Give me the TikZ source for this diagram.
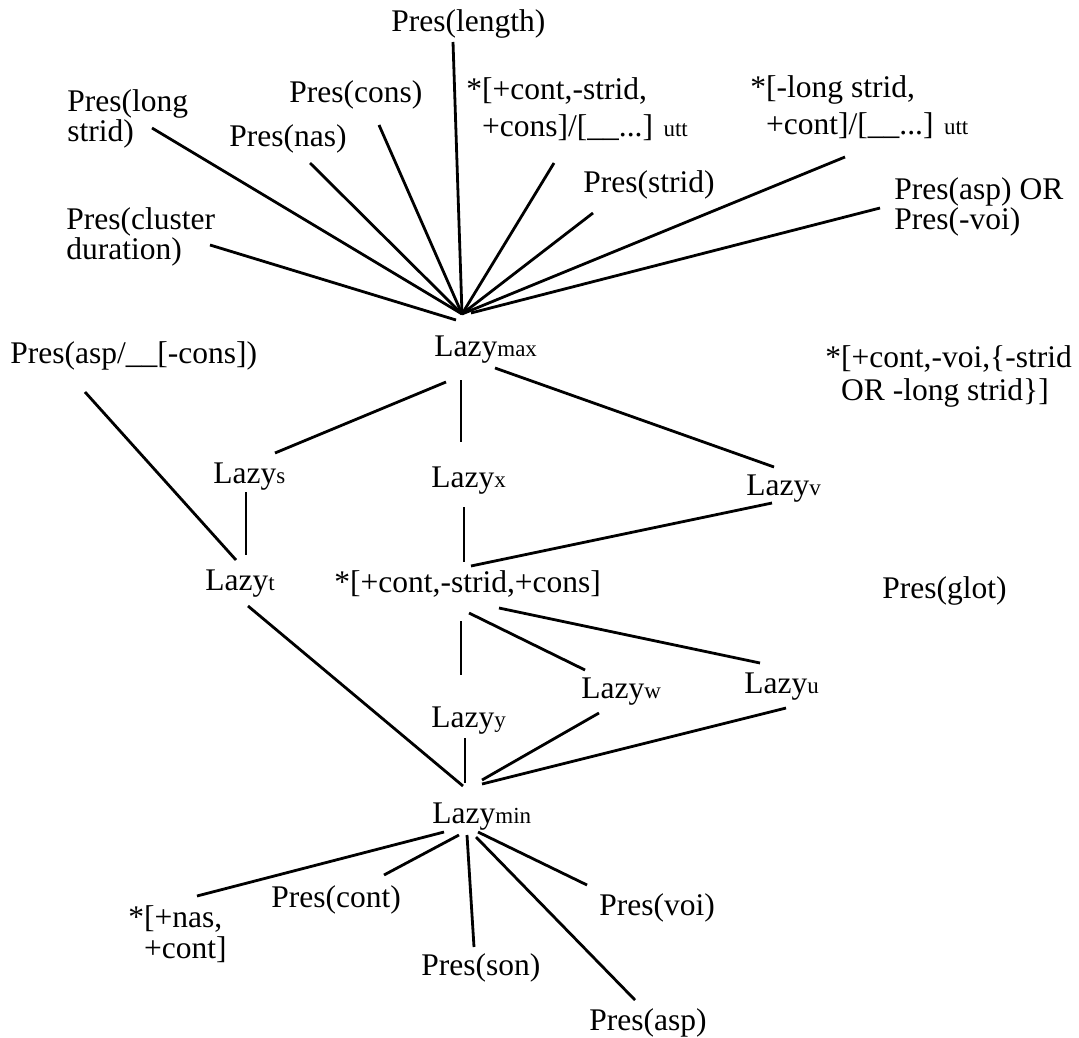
\documentclass[tikz,border=0pt]{standalone}
\usepackage{fontspec}
\setmainfont{Liberation Serif}
\newcommand{\sub}[1]{{\fontsize{11.5}{12}\selectfont #1}}
\newcommand{\lazy}[1]{Lazy\sub{#1}}

\begin{document}
\begin{tikzpicture}[x=0.5pt, y=-0.5pt,
    lbl/.style={inner sep=0pt, anchor=base west, align=left, font=\fontsize{15.75}{15}\selectfont},
    edge/.style={line width=1.4pt}]
    \useasboundingbox (0,0) rectangle (1079,1037);

    % Constraints above Lazy_max (two-line labels sit on their last line)
    \node[lbl] (presLength) at (391,32) {Pres(length)};
    \node[lbl] (presLongStrid) at (67,142) {Pres(long\\strid)};
    \node[lbl] (presCons) at (289,103) {Pres(cons)};
    \node[lbl] (presNas) at (229,147) {Pres(nas)};
    \node[lbl] (starContStrid) at (466,137) {*[+cont,-strid,\\[3.5pt]\phantom{*}+cons]/[\_\_...] \sub{utt}};
    \node[lbl] (starLongStrid) at (750,135) {*[-long strid,\\[3.5pt]\phantom{*}+cont]/[\_\_...] \sub{utt}};
    \node[lbl] (presStrid) at (583,193) {Pres(strid)};
    \node[lbl] (presCluster) at (66,260) {Pres(cluster\\duration)};
    \node[lbl] (presAspVoi) at (894,230) {Pres(asp) OR\\Pres(-voi)};

    % Lazy levels
    \node[lbl] (lazyMax) at (434,356) {\lazy{max}};
    \node[lbl] (presAspCons) at (10,363) {Pres(asp/\_\_[-cons])};
    \node[lbl] (starVoi) at (825,400) {*[+cont,-voi,\{-strid\\[1.5pt]\phantom{*}OR -long strid\}]};
    \node[lbl] (lazyS) at (213,483) {\lazy{s}};
    \node[lbl] (lazyX) at (431,487) {\lazy{x}};
    \node[lbl] (lazyV) at (746,495) {\lazy{v}};
    \node[lbl] (lazyT) at (205,590) {\lazy{t}};
    \node[lbl] (starCons) at (334,592) {*[+cont,-strid,+cons]};
    \node[lbl] (presGlot) at (882,598) {Pres(glot)};
    \node[lbl] (lazyW) at (581,698) {\lazy{w}};
    \node[lbl] (lazyU) at (744,693) {\lazy{u}};
    \node[lbl] (lazyY) at (431,727) {\lazy{y}};
    \node[lbl] (lazyMin) at (432,823) {\lazy{min}};

    % Constraints below Lazy_min
    \node[lbl] (starNas) at (128,958) {*[+nas,\\[0.5pt]\phantom{*}+cont]};
    \node[lbl] (presCont) at (271,907) {Pres(cont)};
    \node[lbl] (presSon) at (421,975) {Pres(son)};
    \node[lbl] (presVoi) at (599,915) {Pres(voi)};
    \node[lbl] (presAsp) at (589,1030) {Pres(asp)};

    \coordinate (hubMax) at (462,314);
    \coordinate (hubMin) at (463,786);

    % Fan into Lazy_max
    \draw[edge] ([shift={(62,10)}]presLength.base west) -- (hubMax);
    \draw[edge] ([shift={(85,-14)}]presLongStrid.base west) -- (hubMax);
    \draw[edge] ([shift={(90,22)}]presCons.base west) -- (hubMax);
    \draw[edge] ([shift={(81,16)}]presNas.base west) -- (hubMax);
    \draw[edge] ([shift={(88,26)}]starContStrid.base west) -- (hubMax);
    \draw[edge] ([shift={(95,22)}]starLongStrid.base west) -- (hubMax);
    \draw[edge] ([shift={(10,20)}]presStrid.base west) -- (hubMax);
    \draw[edge] ([shift={(144,-15)}]presCluster.base west) -- ([shift={(-6,6)}]hubMax);
    \draw[edge] ([shift={(-14,-22)}]presAspVoi.base west) -- ([shift={(9,-1)}]hubMax);

    % Lattice
    \draw[edge] ([shift={(12,26)}]lazyMax.base west) -- ([shift={(62,-30)}]lazyS.base west);
    \draw[edge] ([shift={(27,24)}]lazyMax.base west) -- ([shift={(30,-45)}]lazyX.base west);
    \draw[edge] ([shift={(61,12)}]lazyMax.base west) -- ([shift={(28,-28)}]lazyV.base west);
    \draw[edge] ([shift={(75,29)}]presAspCons.base west) -- ([shift={(31,-30)}]lazyT.base west);
    \draw[edge] ([shift={(33,9)}]lazyS.base west) -- ([shift={(41,-35)}]lazyT.base west);
    \draw[edge] ([shift={(33,20)}]lazyX.base west) -- ([shift={(130,-30)}]starCons.base west);
    \draw[edge] ([shift={(26,8)}]lazyV.base west) -- ([shift={(137,-26)}]starCons.base west);
    \draw[edge] ([shift={(127,29)}]starCons.base west) -- ([shift={(30,-52)}]lazyY.base west);
    \draw[edge] ([shift={(135,21)}]starCons.base west) -- ([shift={(4,-28)}]lazyW.base west);
    \draw[edge] ([shift={(165,16)}]starCons.base west) -- ([shift={(16,-30)}]lazyU.base west);

    % Fan into Lazy_min
    \draw[edge] ([shift={(43,16)}]lazyT.base west) -- (hubMin);
    \draw[edge] ([shift={(34,11)}]lazyY.base west) -- ([shift={(2,-3)}]hubMin);
    \draw[edge] ([shift={(18,15)}]lazyW.base west) -- ([shift={(19,-6)}]hubMin);
    \draw[edge] ([shift={(42,15)}]lazyU.base west) -- ([shift={(19,-2)}]hubMin);

    % Fan out of Lazy_min
    \draw[edge] ([shift={(12,9)}]lazyMin.base west) -- ([shift={(69,-62)}]starNas.base west);
    \draw[edge] ([shift={(27,12)}]lazyMin.base west) -- ([shift={(113,-32)}]presCont.base west);
    \draw[edge] ([shift={(35,12)}]lazyMin.base west) -- ([shift={(53,-28)}]presSon.base west);
    \draw[edge] ([shift={(44,14)}]lazyMin.base west) -- ([shift={(46,-30)}]presAsp.base west);
    \draw[edge] ([shift={(46,9)}]lazyMin.base west) -- ([shift={(-12,-30)}]presVoi.base west);
\end{tikzpicture}
\end{document}
